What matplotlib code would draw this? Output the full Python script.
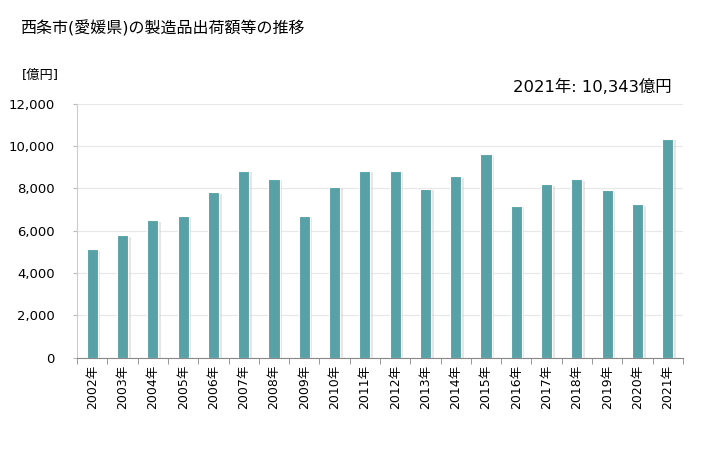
import numpy as np
import matplotlib
matplotlib.use("Agg")
import matplotlib.pyplot as plt
import matplotlib.patheffects as pe

plt.rcParams['font.family'] = ['DejaVu Sans', 'Noto Sans CJK JP']

years = [2002, 2003, 2004, 2005, 2006, 2007, 2008, 2009, 2010, 2011,
         2012, 2013, 2014, 2015, 2016, 2017, 2018, 2019, 2020, 2021]
values = [5120, 5780, 6480, 6710, 7800, 8830, 8450, 6710, 8080, 8830,
          8810, 7960, 8570, 9610, 7160, 8190, 8430, 7910, 7250, 10343]
year_labels = [f"{y}年" for y in years]

title = "西条市(愛媛県)の製造品出荷額等の推移"
unit = "[億円]"
latest = f"{years[-1]}年: {values[-1]:,}億円"

fig = plt.figure(figsize=(7.28, 4.5), dpi=100)
ax = fig.add_axes([0.106, 0.205, 0.832, 0.565])

x = np.arange(len(years))
bars = ax.bar(x, values, width=0.37, color='#58a1a7', edgecolor='white',
              linewidth=0.8, zorder=3)
for b in bars:
    b.set_path_effects([pe.SimplePatchShadow(offset=(1.8, -1),
                                             shadow_rgbFace='#c8c8c8', alpha=0.45),
                        pe.Normal()])

ax.set_xlim(-0.5, len(years) - 0.5)
ax.set_ylim(0, 12000)
ax.set_yticks(np.arange(0, 12001, 2000))
ax.set_yticklabels([f"{v:,}" for v in range(0, 12001, 2000)], fontsize=9.5)
ax.yaxis.grid(True, color='#e8e8e8', linewidth=0.9, zorder=0)
ax.set_axisbelow(True)

ax.set_xticks(x)
ax.set_xticklabels(year_labels, rotation=90, fontsize=9)
ax.set_xticks(np.arange(-0.5, len(years), 1), minor=True)
ax.tick_params(axis='x', which='major', length=0, pad=5)
ax.tick_params(axis='x', which='minor', length=4, color='#888888')
ax.tick_params(axis='y', length=3, color='#bbbbbb', pad=13)

for s in ['top', 'right']:
    ax.spines[s].set_visible(False)
ax.spines['left'].set_color('#cccccc')
ax.spines['bottom'].set_color('#888888')

fig.text(0.027, 0.938, title, fontsize=11.5, va='center', ha='left')
fig.text(0.030, 0.832, unit, fontsize=9.5, va='center', ha='left')
fig.text(0.922, 0.806, latest, fontsize=11.8, va='center', ha='right')

fig.savefig("out.png", dpi=100)
